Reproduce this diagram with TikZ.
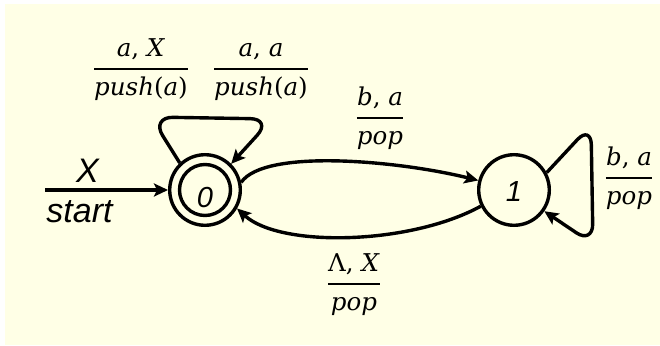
\documentclass[tikz,border=0pt]{standalone}
\usepackage{unicode-math}
\setmainfont{Liberation Sans}
\newfontfamily\dvserif{DejaVu Serif}
\usetikzlibrary{arrows.meta}
\definecolor{bgcream}{RGB}{255,255,230}
\newcommand{\trfrac}[2]{$\genfrac{}{}{1.7pt}{0}{\mbox{\raisebox{1.5pt}{#1}}}{\mbox{\raisebox{-4pt}{#2}}}$}
\newcommand{\iv}[1]{\textit{#1}}
\begin{document}
\begin{tikzpicture}[x=1pt,y=1pt,
  st/.style={circle,draw,line width=3.4pt,minimum size=70.6pt,inner sep=0pt,
    font=\fontsize{29}{34}\selectfont\itshape},
  edge/.style={line width=3.4pt,-{Stealth[length=14pt,width=13pt,inset=3pt]}},
  frac/.style={anchor=base,inner sep=0pt,font=\dvserif\fontsize{24.5}{29}\selectfont},
  lbl/.style={anchor=base,inner sep=0pt,font=\fontsize{34}{40}\selectfont\itshape}]
\useasboundingbox (0,0) rectangle (660,345);
\fill[white] (0,0) rectangle (660,345);
\fill[bgcream] (5,0) rectangle (660,341);
% states
\node[st] (n0) at (205,155) {\smash{\raisebox{-18pt}{0}}};
\draw[line width=3.4pt] (n0.center) circle[radius=25.5pt];
\node[st] (n1) at (514,155) {\smash{\raisebox{-12pt}{1}}};
% start arrow
\coordinate (s) at (45,155);
\draw[edge] (s) -- (n0);
\node[lbl] (lx) at (87.5,162) {X};
\node[lbl] (ls) at (79.5,122) {start};
% self loop on 0
\draw[edge,rounded corners=22pt] (n0.133) -- (151,228) -- (272,226) -- (n0.45);
\node[frac] (f1) at (141,270) {\trfrac{\iv{a}, \iv{X}}{\iv{push}(\iv{a})}};
\node[frac] (f2) at (261,270) {\trfrac{\iv{a}, \iv{a}}{\iv{push}(\iv{a})}};
% 0 -> 1
\draw[edge] (n0.12) .. controls (265,197) and (400,184) .. (n1.165);
\node[frac] (f3) at (380,221) {\trfrac{\iv{b}, \iv{a}}{\iv{pop}}};
% 1 -> 0
\draw[edge] (n1.206) .. controls (410,100) and (280,97) .. (n0.-30);
\node[frac] (f4) at (354,55) {\trfrac{Λ, \iv{X}}{\iv{pop}}};
% self loop on 1
\draw[edge,rounded corners=20pt] (n1.28) -- (591,220) -- (593,101) -- (n1.-35);
\node[frac] (f5) at (629,161) {\trfrac{\iv{b}, \iv{a}}{\iv{pop}}};
\end{tikzpicture}
\end{document}
